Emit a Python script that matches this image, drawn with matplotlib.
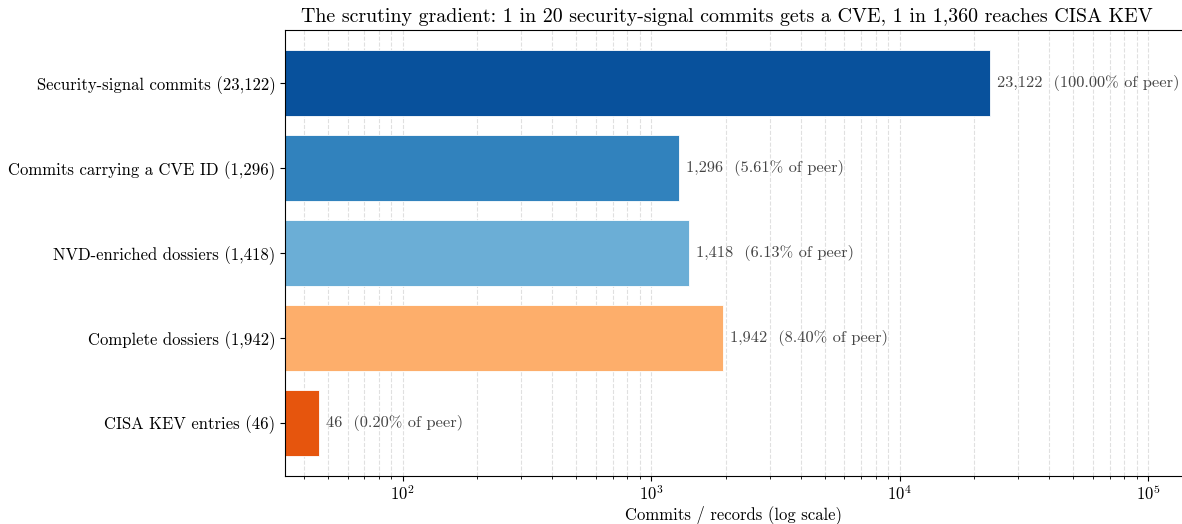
import matplotlib
matplotlib.use("Agg")
import matplotlib.pyplot as plt

# LaTeX-like look without a TeX install
plt.rcParams['font.family'] = ['cmr10', 'DejaVu Serif']
plt.rcParams['mathtext.fontset'] = 'cm'
plt.rcParams['axes.formatter.use_mathtext'] = True
plt.rcParams['axes.unicode_minus'] = False

# stages of the funnel, top to bottom
stages = [
    "Security-signal commits (23,122)",
    "Commits carrying a CVE ID (1,296)",
    "NVD-enriched dossiers (1,418)",
    "Complete dossiers (1,942)",
    "CISA KEV entries (46)",
]
counts = [23122, 1296, 1418, 1942, 46]
pct_of_peer = [100.00, 5.61, 6.13, 8.40, 0.20]
colors = ["#08519c", "#3182bd", "#6baed6", "#fdae6b", "#e6550d"]

W, H = 1182, 524
fig = plt.figure(figsize=(W / 100, H / 100), dpi=100)
ax = fig.add_axes([285 / W, 48 / H, (W - 285) / W, (476 - 30) / H])

ypos = list(range(len(stages)))
ax.barh(ypos, counts, height=0.78, color=colors,
        edgecolor="white", linewidth=0.6, zorder=2)
ax.set_xscale("log")
ax.set_xlim(33.6, 137000)
ax.invert_yaxis()
ax.set_yticks(ypos)
ax.set_yticklabels(stages, fontsize=12)
ax.tick_params(axis="x", labelsize=12, pad=2)

ax.grid(True, axis="x", which="both", linestyle="--", color="#bbbbbb",
        alpha=0.45, linewidth=0.8, zorder=3)
ax.spines["right"].set_visible(False)

for y, c, p in zip(ypos, counts, pct_of_peer):
    ax.annotate(f"{c:,}  ({p:.2f}% of peer)", xy=(c, y), xytext=(5, 0),
                textcoords="offset points", va="center", ha="left",
                fontsize=11.8, color="#444444", zorder=4)

ax.set_xlabel("Commits / records (log scale)", fontsize=12, labelpad=1)
ax.set_title("The scrutiny gradient: 1 in 20 security-signal commits gets a CVE, "
             "1 in 1,360 reaches CISA KEV", fontsize=14.4, x=0.493, pad=6)

fig.savefig("out.png", dpi=100)
